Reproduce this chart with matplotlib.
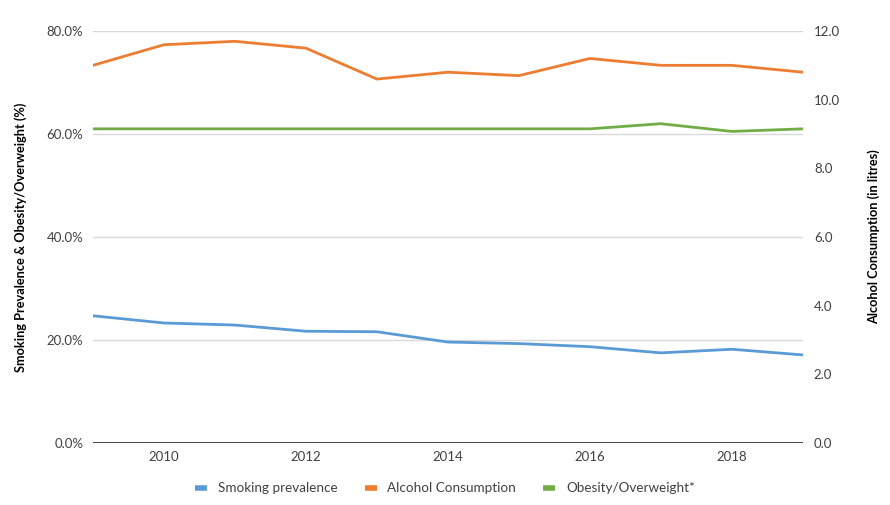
import matplotlib
matplotlib.use("Agg")
import matplotlib.pyplot as plt
from matplotlib.ticker import FuncFormatter

plt.rcParams['font.family'] = ['Lato', 'DejaVu Sans']

years = [2009, 2010, 2011, 2012, 2013, 2014, 2015, 2016, 2017, 2018, 2019]
smoking = [24.7, 23.3, 22.9, 21.7, 21.6, 19.6, 19.3, 18.7, 17.5, 18.2, 17.1]
obesity = [61.0, 61.0, 61.0, 61.0, 61.0, 61.0, 61.0, 61.0, 62.0, 60.5, 61.0]
alcohol = [11.0, 11.6, 11.7, 11.5, 10.6, 10.8, 10.7, 11.2, 11.0, 11.0, 10.8]

blue = '#5B9BD5'
orange = '#ED7D31'
green = '#70AD47'
text_col = '#404040'

fig = plt.figure(figsize=(8.9, 5.05), dpi=100)
ax = fig.add_axes([0.1045, 0.1228, 0.7975, 0.8158])
ax2 = ax.twinx()

l1, = ax.plot(years, smoking, color=blue, lw=2.0, label='Smoking prevalence')
l3, = ax.plot(years, obesity, color=green, lw=2.0, label='Obesity/Overweight*')
l2, = ax2.plot(years, alcohol, color=orange, lw=2.0, label='Alcohol Consumption')

ax.set_xlim(2009, 2019)
ax.set_ylim(0, 80)
ax2.set_ylim(0, 12)
ax.set_yticks([0, 20, 40, 60, 80])
ax2.set_yticks([0, 2, 4, 6, 8, 10, 12])
ax.set_xticks([2010, 2012, 2014, 2016, 2018])
ax.yaxis.set_major_formatter(FuncFormatter(lambda v, p: f'{v:.1f}%'))
ax2.yaxis.set_major_formatter(FuncFormatter(lambda v, p: f'{v:.1f}'))

ax.grid(axis='y', color='#D9D9D9', lw=1.0)
ax.set_axisbelow(True)
for a in (ax, ax2):
    for s in ('top', 'left', 'right', 'bottom'):
        a.spines[s].set_visible(False)
    a.tick_params(length=0, labelsize=9.5, colors=text_col)
ax.axhline(0, color='#262626', lw=1.2, zorder=3)
ax.tick_params(axis='y', pad=7)
ax.tick_params(axis='x', pad=6)
ax2.tick_params(axis='y', pad=8)

ax.set_ylabel('Smoking Prevalence & Obesity/Overweight (%)', fontsize=9.2,
              fontweight='bold', color='black', labelpad=14)
ax2.set_ylabel('Alcohol Consumption (in litres)', fontsize=9.2,
               fontweight='bold', color='black', labelpad=20)

leg = fig.legend(handles=[l1, l2, l3], loc='center', bbox_to_anchor=(0.5, 0.033),
                 ncol=3, frameon=False, fontsize=9.7, handlelength=0.9,
                 handletextpad=0.8, columnspacing=2.0, labelcolor=text_col)
for h in leg.legend_handles:
    h.set_linewidth(4)
    h.set_solid_capstyle('butt')

fig.savefig('out.png', dpi=100)
